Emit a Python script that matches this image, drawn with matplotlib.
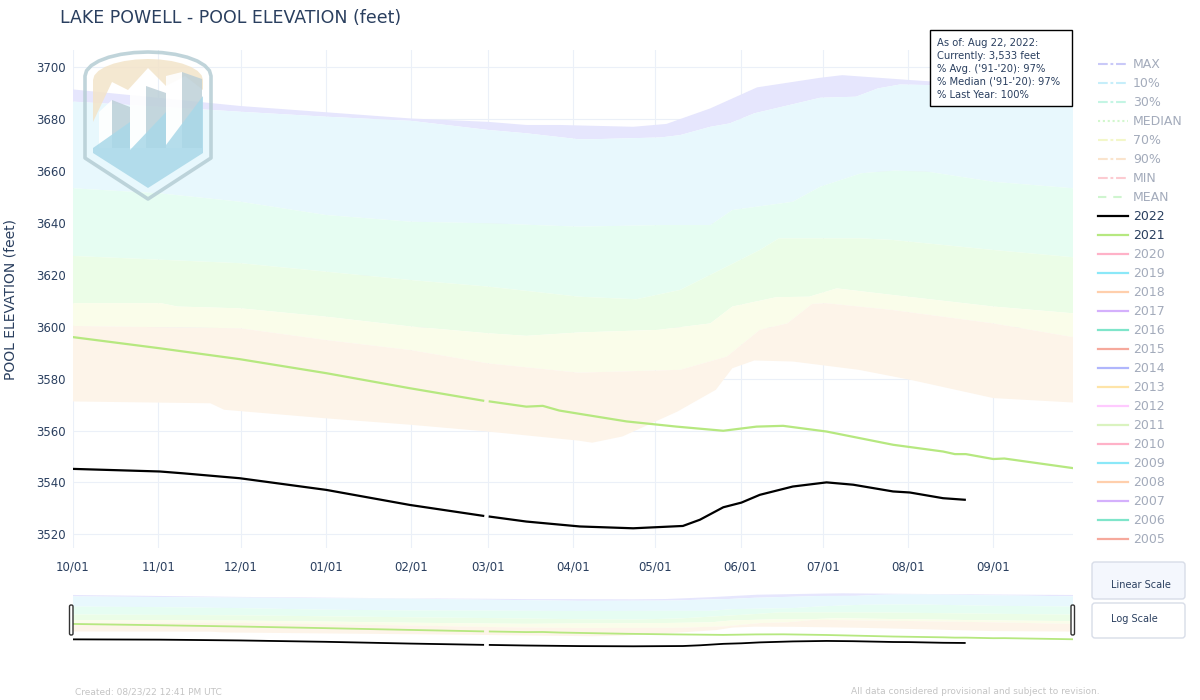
import numpy as np
import matplotlib.pyplot as plt
from matplotlib.patches import Polygon, Rectangle, FancyBboxPatch

plt.rcParams['font.family'] = ['DejaVu Sans']
plt.rcParams['lines.scale_dashes'] = False

W, H = 1200, 700
TXT = '#2a3f5f'
FADED = '#a3abbb'

# x = day of the water year (0 = Oct 1, 2021)
month_days = [0, 31, 61, 92, 123, 151, 182, 212, 243, 273, 304, 335]
month_labels = ["10/01", "11/01", "12/01", "01/01", "02/01", "03/01",
                "04/01", "05/01", "06/01", "07/01", "08/01", "09/01"]

# statistics envelope ('91-'20), feet
max_days = [0, 61, 123, 151, 165, 177, 204, 216, 232, 249, 272, 280, 305, 335, 364]
max_vals = [3691.5, 3685.1, 3680.3, 3679.0, 3677.8, 3677.8, 3677.1, 3678.2, 3684.2,
            3692.3, 3696.0, 3697.0, 3695.1, 3693.0, 3691.5]

p10_days = [0, 32, 61, 92, 123, 151, 165, 184, 189, 214, 221, 232, 239, 248, 272,
            285, 293, 301, 311, 335, 364]
p10_vals = [3686.8, 3684.8, 3682.9, 3681.0, 3679.4, 3675.9, 3674.6, 3672.3, 3672.3,
            3673.0, 3673.9, 3677.1, 3678.4, 3682.3, 3688.3, 3688.7, 3691.9, 3693.4,
            3693.2, 3690.5, 3687.2]

p30_days = [0, 32, 61, 92, 123, 151, 184, 214, 232, 240, 262, 272, 287, 299, 311, 335, 364]
p30_vals = [3653.4, 3651.4, 3648.2, 3643.1, 3640.5, 3639.9, 3638.6, 3639.2, 3639.2,
            3645.0, 3648.2, 3654.0, 3659.2, 3660.2, 3659.8, 3655.9, 3653.4]

median_days = [0, 61, 123, 151, 184, 205, 221, 238, 250, 257, 286, 298, 335, 364]
median_vals = [3627.3, 3624.5, 3618.0, 3615.5, 3611.6, 3610.6, 3614.2, 3623.2, 3629.6,
               3634.1, 3634.1, 3633.5, 3629.6, 3626.8]

p70_days = [0, 32, 38, 61, 92, 123, 151, 165, 184, 213, 232, 240, 256, 268, 278, 298, 335, 364]
p70_vals = [3609.1, 3609.1, 3607.8, 3607.1, 3603.9, 3600.1, 3597.5, 3596.5, 3597.8,
            3598.8, 3601.3, 3607.8, 3611.4, 3611.6, 3614.8, 3612.3, 3607.8, 3605.2]

p90_days = [0, 61, 92, 123, 151, 184, 221, 238, 250, 260, 269, 274, 298, 335, 364]
p90_vals = [3600.3, 3599.4, 3594.9, 3591.0, 3585.9, 3582.3, 3583.4, 3588.5, 3598.8,
            3601.3, 3608.8, 3609.1, 3606.5, 3601.3, 3596.0]

min_days = [0, 50, 55, 92, 123, 151, 184, 189, 200, 220, 234, 240, 248, 262, 286, 305, 335, 364]
min_vals = [3571.2, 3570.5, 3568.0, 3564.7, 3562.2, 3559.6, 3556.1, 3555.3, 3557.7,
            3567.3, 3575.7, 3584.0, 3587.0, 3586.6, 3583.4, 3579.5, 3572.5, 3570.8]

# water years (nan = missing Feb 29 at 03/01)
wy2021_days = [0, 31.6, 60.7, 92.2, 122.6, 149.3, 150.5, 151.7, 165, 171, 177, 184.5,
               201.5, 219.7, 236.7, 248.8, 258.5, 274.3, 298.5, 316.7, 321, 325, 335, 339, 364]
wy2021_vals = [3596.0, 3591.7, 3587.5, 3582.1, 3576.3, 3571.5, np.nan, 3571.2, 3569.2,
               3569.5, 3567.7, 3566.4, 3563.5, 3561.5, 3559.9, 3561.5, 3561.8, 3559.6,
               3554.5, 3551.9, 3550.9, 3550.9, 3549.0, 3549.2, 3545.5]

wy2022_days = [0, 31.6, 40, 60.7, 92.2, 122.6, 149.3, 150.5, 151.7, 165, 184.5, 203.9,
               222, 228.2, 236.7, 243.3, 250, 262, 274.3, 284, 298.5, 304.6, 316.7, 324.6]
wy2022_vals = [3545.2, 3544.2, 3543.5, 3541.6, 3537.1, 3531.3, 3527.1, np.nan, 3526.8,
               3524.9, 3523.0, 3522.3, 3523.2, 3525.6, 3530.4, 3532.2, 3535.2, 3538.4,
               3540.0, 3539.1, 3536.5, 3536.1, 3533.9, 3533.3]

bands = [
    (max_days, max_vals, p10_days, p10_vals, '#e6e6fd'),
    (p10_days, p10_vals, p30_days, p30_vals, '#e8f8fd'),
    (p30_days, p30_vals, median_days, median_vals, '#e6fdf2'),
    (median_days, median_vals, p70_days, p70_vals, '#ebfde7'),
    (p70_days, p70_vals, p90_days, p90_vals, '#fafdea'),
    (p90_days, p90_vals, min_days, min_vals, '#fdf4e9'),
]

info_lines = ["As of: Aug 22, 2022:", "Currently: 3,533 feet", "% Avg. ('91-'20): 97%",
              "% Median ('91-'20): 97%", "% Last Year: 100%"]

stat_legend = [("MAX", '#c9c9f8', (0, (7, 2, 2, 2))),
               ("10%", '#c6eefa', (0, (7, 2, 2, 2))),
               ("30%", '#c4f5e4', (0, (7, 2, 2, 2))),
               ("MEDIAN", '#d2f7cd', (0, (1.5, 2))),
               ("70%", '#f3f7c9', (0, (7, 2, 2, 2))),
               ("90%", '#fae4cd', (0, (7, 2, 2, 2))),
               ("MIN", '#fccbd1', (0, (7, 2, 2, 2))),
               ("MEAN", '#cff5cf', (0, (6, 5)))]
plotly_colors = ['#636efa', '#EF553B', '#00cc96', '#ab63fa', '#FFA15A',
                 '#19d3f3', '#FF6692', '#B6E880', '#FF97FF', '#FECB52']
old_years = list(range(2020, 2004, -1))


def draw_bands(ax):
    for d_up, v_up, d_lo, v_lo, col in bands:
        xs = list(d_up) + list(d_lo)[::-1]
        ys = list(v_up) + list(v_lo)[::-1]
        ax.fill(xs, ys, color=col, lw=0, zorder=1)


def px_axes(x0, y0, x1, y1, **kw):
    return fig.add_axes([x0 / W, 1 - y1 / H, (x1 - x0) / W, (y1 - y0) / H], **kw)


fig = plt.figure(figsize=(12, 7), dpi=100)

# main chart
ax = px_axes(73, 50, 1073, 548)
draw_bands(ax)
ax.plot(wy2021_days, wy2021_vals, color='#B6E880', lw=1.6, zorder=3)
ax.plot(wy2022_days, wy2022_vals, color='black', lw=1.6, zorder=4)
ax.set_xlim(0, 364)
ax.set_ylim(3514.7, 3706.7)
ax.set_xticks(month_days)
ax.set_xticklabels(month_labels)
ax.set_yticks(range(3520, 3701, 20))
ax.grid(color='#ebf0f8', lw=0.8)
ax.set_axisbelow(True)
for s in ax.spines.values():
    s.set_visible(False)
ax.tick_params(axis='x', length=0, colors=TXT, labelsize=8.5, pad=9)
ax.tick_params(axis='y', length=0, colors=TXT, labelsize=8.5, pad=5)
fig.text(11 / W, 1 - 300 / H, "POOL ELEVATION (feet)", rotation=90,
         ha='center', va='center', color=TXT, fontsize=10)

# range slider
sl = px_axes(73, 593, 1073, 648)
draw_bands(sl)
sl.plot(wy2021_days, wy2021_vals, color='#B6E880', lw=1.3, zorder=3)
sl.plot(wy2022_days, wy2022_vals, color='black', lw=1.3, zorder=4)
sl.set_xlim(0, 364)
sl.set_ylim(3516.7, 3698)
sl.axis('off')

# overlay in pixel coordinates for annotations
ov = fig.add_axes([0, 0, 1, 1], zorder=10)
ov.set_xlim(0, W)
ov.set_ylim(H, 0)
ov.axis('off')
ov.patch.set_alpha(0)

ov.text(60, 18, "LAKE POWELL - POOL ELEVATION (feet)", fontsize=12.5, color=TXT, va='center')

# watermark logo (shield with rounded top)
t = np.linspace(0, np.pi, 15)
arch_out = [(148 - 63 * np.cos(a), 76 - 24 * np.sin(a)) for a in t]
shield_out = arch_out + [(211, 158), (148, 199), (85, 158)]
ov.add_patch(Polygon(shield_out, closed=True, fill=False, ec='#b5cdd4', lw=2.6,
                     joinstyle='round', alpha=0.85))
arch_in = [(148 - 55 * np.cos(a), 80 - 21 * np.sin(a)) for a in t]
orange = arch_in + [(203, 90), (185, 76), (166, 86), (148, 68), (128, 90), (112, 82), (93, 122)]
ov.add_patch(Polygon(orange, fc='#f3e4c9', lw=0, alpha=0.85))
bars = [[(99, 112), (112, 100), (112, 148), (99, 148)],
        [(130, 92), (146, 86), (146, 148), (130, 148)],
        [(166, 76), (182, 72), (182, 148), (166, 148)]]
faces = [[(112, 100), (130, 107), (130, 148), (112, 148)],
         [(146, 86), (166, 93), (166, 148), (146, 148)],
         [(182, 72), (202, 79), (202, 148), (182, 148)]]
for b in bars:
    ov.add_patch(Polygon(b, fc='white', lw=0, alpha=0.9))
for f in faces:
    ov.add_patch(Polygon(f, fc='#bdd0d8', lw=0, alpha=0.85))
blue = [(93, 148), (130, 122), (130, 150), (166, 112), (166, 145), (203, 96),
        (203, 153), (148, 188), (93, 153)]
ov.add_patch(Polygon(blue, fc='#a9d8e8', lw=0, alpha=0.85))

# info box
ov.add_patch(Rectangle((930, 30), 142, 76, fc='white', ec='black', lw=1))
for i, line in enumerate(info_lines):
    ov.text(937, 43 + i * 13, line, fontsize=7.2, color=TXT, va='center')

# legend
ly = 64.3
for name, col, ls in stat_legend:
    ov.plot([1098, 1128], [ly, ly], color=col, lw=1.5, ls=ls)
    ov.text(1133, ly, name, fontsize=9, color=FADED, va='center')
    ly += 19
for name, col in [("2022", 'black'), ("2021", '#B6E880')]:
    ov.plot([1098, 1128], [ly, ly], color=col, lw=1.6)
    ov.text(1133, ly, name, fontsize=9, color=TXT, va='center')
    ly += 19
for yr in old_years:
    col = plotly_colors[(yr - 2004) % 10]
    ov.plot([1098, 1128], [ly, ly], color=col, lw=1.6, alpha=0.5)
    ov.text(1133, ly, str(yr), fontsize=9, color=FADED, va='center')
    ly += 19

# scale buttons
ov.add_patch(FancyBboxPatch((1092, 562), 93, 37, boxstyle='round,pad=0,rounding_size=3',
                            fc='#f4f7fd', ec='#d8dde8', lw=1))
ov.add_patch(FancyBboxPatch((1092, 603), 93, 35, boxstyle='round,pad=0,rounding_size=3',
                            fc='white', ec='#d8dde8', lw=1))
ov.text(1111, 585, "Linear Scale", fontsize=7, color=TXT, va='center')
ov.text(1111, 619, "Log Scale", fontsize=7, color=TXT, va='center')

# slider handles
for hx in (69.5, 1071):
    ov.add_patch(FancyBboxPatch((hx, 605), 3.5, 30, boxstyle='round,pad=0,rounding_size=1.5',
                                fc='white', ec='#333333', lw=1))

# footer
ov.text(75, 692, "Created: 08/23/22 12:41 PM UTC", fontsize=6.5, color='#c4c4c4', va='center')
ov.text(851, 692, "All data considered provisional and subject to revision.",
        fontsize=6.5, color='#c4c4c4', va='center')

fig.savefig("out.png", dpi=100)
